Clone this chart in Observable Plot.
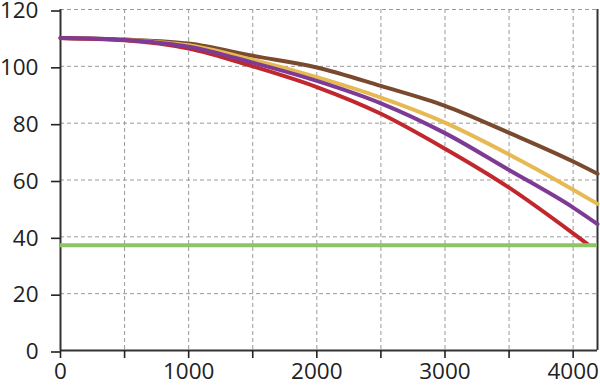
<!DOCTYPE html>
<html>
<head>
<meta charset="utf-8">
<script src="https://cdn.jsdelivr.net/npm/d3@7"></script>
<script src="https://cdn.jsdelivr.net/npm/@observablehq/plot@0.6"></script>
<style>
  html, body { margin: 0; padding: 0; background: #fff; }
</style>
</head>
<body>
<div id="chart"></div>
<script>
const distance = [0, 500, 1000, 1500, 2000, 2500, 3000, 3500, 4000, 4190];
const seriesA = [110, 109.4, 108.0, 103.7, 99.6, 93.1, 86.1, 76.6, 66.5, 62.2]; // brown
const seriesB = [110, 109.3, 107.4, 102.3, 96.2, 89.0, 80.2, 69.0, 56.6, 51.6]; // yellow
const seriesC = [110, 109.3, 106.9, 101.3, 94.9, 87.0, 76.5, 63.5, 50.3, 44.5]; // purple
const distanceD = [0, 500, 1000, 1500, 2000, 2500, 3000, 3500, 4000, 4110];
const seriesD = [110, 109.2, 106.3, 100.0, 92.7, 83.3, 71.0, 57.3, 41.2, 37.5]; // red
const threshold = 37;
const xTicks = [0, 500, 1000, 1500, 2000, 2500, 3000, 3500, 4000];
const yTicks = [0, 20, 40, 60, 80, 100, 120];
const xMax = 4190;

const series = [
  {key: "A", xs: distance, ys: seriesA, color: "#7a4a2e"},
  {key: "B", xs: distance, ys: seriesB, color: "#e6b953"},
  {key: "D", xs: distanceD, ys: seriesD, color: "#c0282d"},
  {key: "C", xs: distance, ys: seriesC, color: "#7e3b95"}
];
const lineMarks = series.map(s =>
  Plot.line(s.xs.map((x, i) => ({x, y: s.ys[i]})), {x: "x", y: "y", stroke: s.color, strokeWidth: 4, curve: "monotone-x"})
);

const chart = Plot.plot({
  width: 600,
  height: 390,
  marginLeft: 60,
  marginRight: 3,
  marginTop: 9,
  marginBottom: 40,
  style: {fontFamily: "Open Sans", fontSize: "22.5px", color: "#222", background: "#fff"},
  x: {domain: [0, xMax], axis: null},
  y: {domain: [0, 120], axis: null},
  marks: [
    Plot.ruleX(xTicks.filter(d => d > 0), {stroke: "#9a9a9a", strokeWidth: 1, strokeDasharray: "4,3"}),
    Plot.ruleY(yTicks.filter(d => d > 0), {stroke: "#9a9a9a", strokeWidth: 1, strokeDasharray: "4,3"}),
    Plot.ruleX([0, xMax], {stroke: "#333", strokeWidth: 2}),
    Plot.ruleY([0], {stroke: "#333", strokeWidth: 2}),
    Plot.axisY({ticks: yTicks, tickSize: 9, tickPadding: 13, strokeWidth: 1.6, label: null, dy: 1.5, tickFormat: d3.format("d")}),
    Plot.axisX({ticks: xTicks, tickSize: 8, tickPadding: 5, strokeWidth: 1.6, label: null,
      tickFormat: d => d % 1000 === 0 ? String(d) : ""}),
    ...lineMarks,
    Plot.ruleY([threshold], {stroke: "#8cc466", strokeWidth: 4})
  ]
});
document.getElementById("chart").appendChild(chart);
</script>
</body>
</html>
